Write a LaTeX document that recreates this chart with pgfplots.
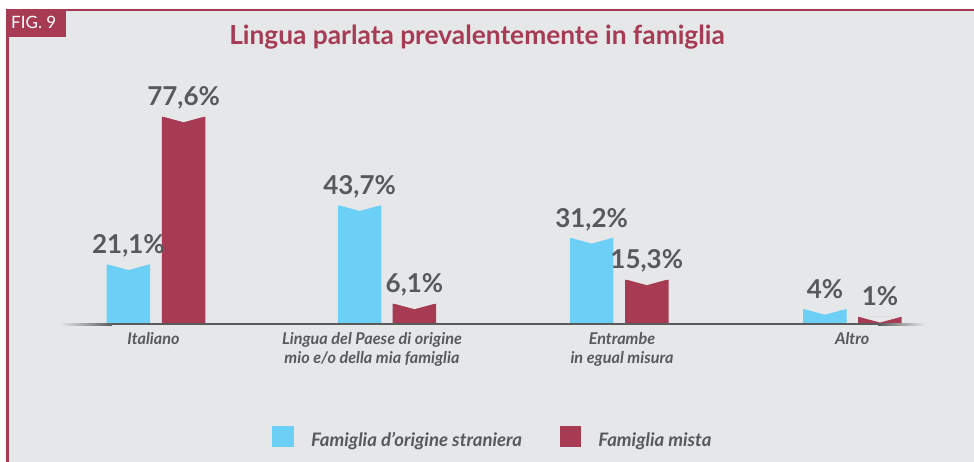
\documentclass[border=0pt]{standalone}
\usepackage{fontspec}
\setmainfont{Lato}
\usepackage{pgfplots}
\pgfplotsset{compat=1.18}
\definecolor{bgcol}{HTML}{E6E7E9}
\definecolor{cyanbar}{HTML}{6BCFF6}
\definecolor{redbar}{HTML}{A63B53}
\definecolor{txtgrey}{HTML}{58595B}
\definecolor{linegrey}{HTML}{5A5B5D}
\pgfdeclareplotmark{notch}{%
  \pgfpathmoveto{\pgfqpoint{-22.5pt}{0.6pt}}%
  \pgfpathlineto{\pgfqpoint{22.5pt}{0.6pt}}%
  \pgfpathlineto{\pgfqpoint{0pt}{-5.5pt}}%
  \pgfpathclose
  \pgfusepathqfill}
\begin{document}
\begin{tikzpicture}
\useasboundingbox (0,0) rectangle (974pt,462pt);
% frame and background
\fill[white] (0,0) rectangle (974pt,462pt);
\fill[bgcol] (8.7pt,0) rectangle (974pt,450.7pt);
\fill[redbar] (6pt,450.7pt) rectangle (974pt,453.3pt);
\fill[redbar] (6pt,0) rectangle (8.7pt,453.3pt);
\fill[redbar] (7.3pt,424.7pt) rectangle (65.7pt,452pt);
\node[anchor=base west, inner sep=0pt, text=white, font=\fontsize{17}{20}\selectfont] at (11pt,433.7pt) {FIG. 9};
\node[anchor=base, inner sep=0pt, text=redbar, font=\fontsize{26.3}{30}\selectfont\bfseries] at (477pt,417.7pt) {Lingua parlata prevalentemente in famiglia};
\begin{axis}[
  at={(16.8pt,138.7pt)}, anchor=south west,
  x=232.13pt, y=2.615pt,
  xmin=-0.6, xmax=3.5, ymin=-1.415, ymax=100,
  y coord trafo/.code={\pgfmathparse{#1+1.415}},
  y coord inv trafo/.code={\pgfmathparse{#1-1.415}},
  clip=false,
  axis line style={draw=none},
  major tick length=0pt,
  ytick=\empty,
  xtick={-0.011,0.930,2.007,2.999},
  xticklabels={Italiano,{Lingua del Paese di origine\\mio e/o della mia famiglia},{Entrambe\\in egual misura},Altro},
  xticklabel style={align=center, anchor=north, inner sep=0pt, yshift=-8.5pt, text=txtgrey,
    font=\fontsize{16.2}{19.5}\selectfont\bfseries\itshape},
  nodes near coords,
  point meta=explicit symbolic,
  every node near coord/.append style={anchor=base, inner sep=0pt, yshift=11pt, text=txtgrey,
    font=\fontsize{26}{26}\selectfont\bfseries},
  legend columns=2,
  legend style={draw=none, fill=none, at={(0.2685,-0.3873)}, anchor=north west,
    inner sep=0pt, outer sep=0pt, text=txtgrey,
    font=\fontsize{18.6}{21}\selectfont\bfseries\itshape,
    cells={anchor=base west}, nodes={inner sep=0pt},
    /tikz/every odd column/.append style={column sep=17.3pt},
    /tikz/every even column/.append style={column sep=37.7pt}},
]
\addplot[ybar, bar width=43.5pt, bar shift=0pt, fill=cyanbar, draw=none,
  legend image code/.code={\fill[cyanbar] (0pt,-0.7pt) rectangle (21.4pt,20.7pt);}]
  coordinates {(-0.1189,21.1) [21,1\%] (0.8768,43.7) [43,7\%] (1.8764,31.2) [31,2\%] (2.8816,4) [4\%]};
\addlegendentry{Famiglia d’origine straniera}
\addplot[ybar, bar width=43.5pt, bar shift=0pt, fill=redbar, draw=none,
  legend image code/.code={\fill[redbar] (0pt,-0.7pt) rectangle (21.4pt,20.7pt);}]
  coordinates {(0.1187,77.6) [77,6\%] (1.1132,6.1) [6,1\%] (2.1139,15.3) [15,3\%] (3.1185,1) [1\%]};
\addlegendentry{Famiglia mista}
\addplot[only marks, mark=notch, color=bgcol, forget plot, nodes near coords=\empty]
  coordinates {(-0.1189,21.1) (0.8768,43.7) (1.8764,31.2) (2.8816,4)};
\addplot[only marks, mark=notch, color=bgcol, forget plot, nodes near coords=\empty]
  coordinates {(0.1187,77.6) (1.1132,6.1) (2.1139,15.3) (3.1185,1)};
\end{axis}
% baseline
\shade[left color=bgcol, right color=linegrey] (60pt,136.7pt) rectangle (112pt,138.7pt);
\fill[linegrey] (112pt,136.7pt) rectangle (878pt,138.7pt);
\shade[left color=linegrey, right color=bgcol] (878pt,136.7pt) rectangle (925pt,138.7pt);
\end{tikzpicture}
\end{document}
